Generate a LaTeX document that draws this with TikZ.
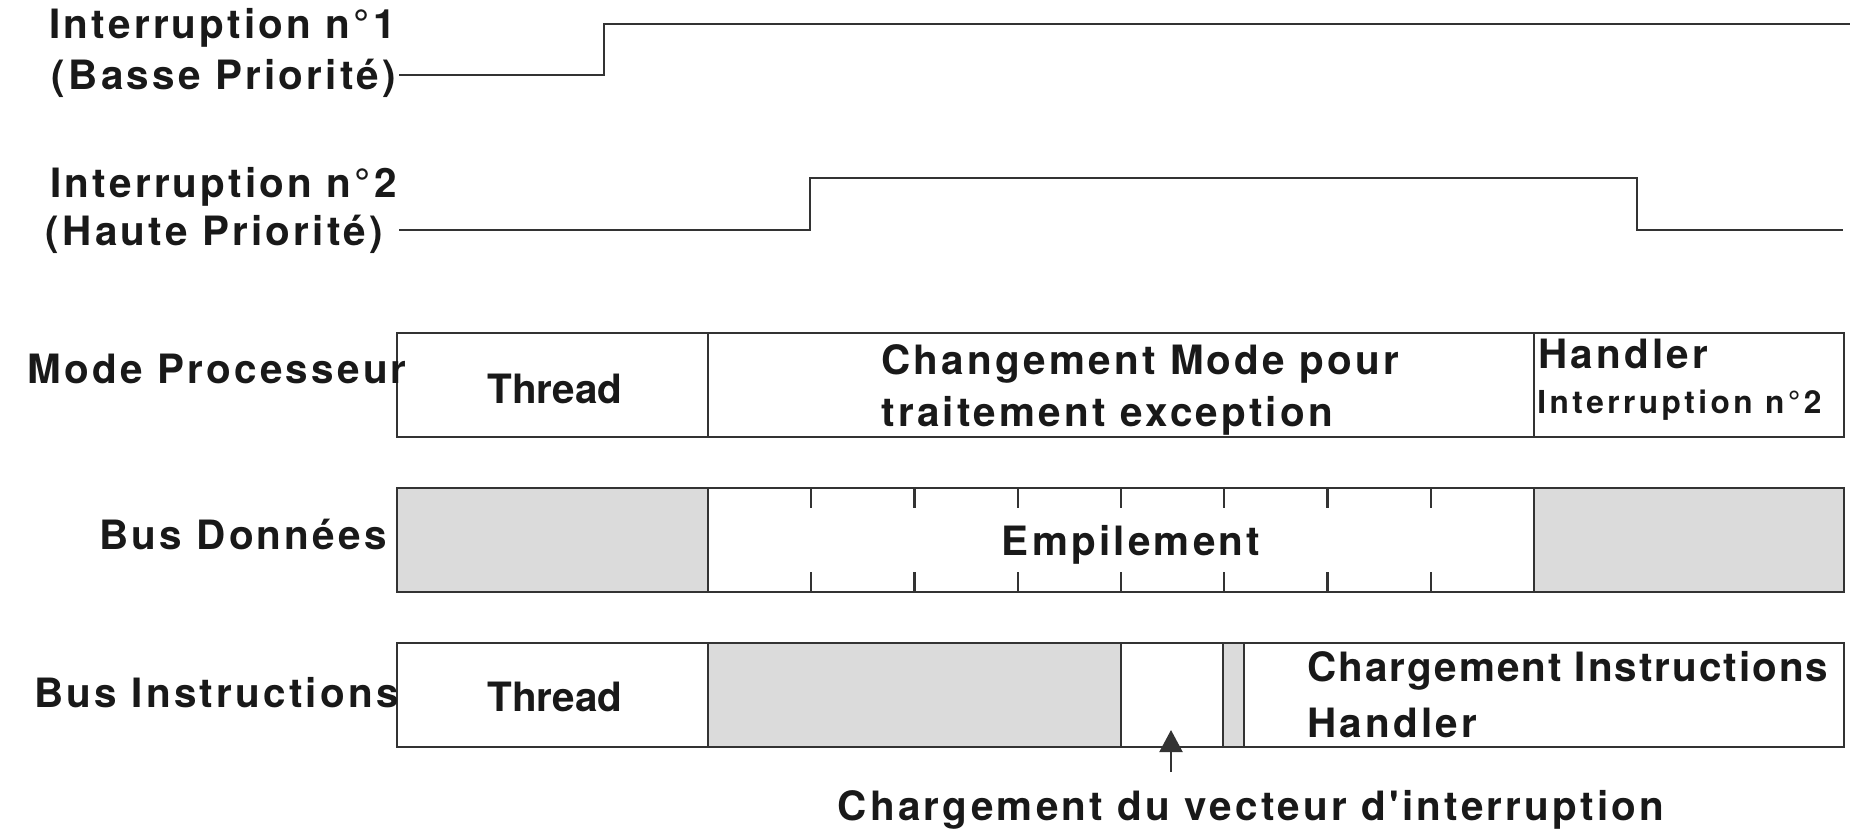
\documentclass[tikz,border=0pt]{standalone}
\usepackage{fontspec}
\setmainfont{TeX Gyre Heros}
\newfontfamily\diagfont[LetterSpace=8]{TeX Gyre Heros}
\newfontfamily\tightfont[LetterSpace=5]{TeX Gyre Heros}
\newfontfamily\smallfont[LetterSpace=11]{TeX Gyre Heros}
\usetikzlibrary{arrows.meta}
\definecolor{cellgray}{gray}{0.86}
\definecolor{inkgray}{gray}{0.2}
\tikzset{
  lbl/.style={font=\diagfont\bfseries\fontsize{23}{28}\selectfont, inner sep=0pt, text=black!90, anchor=base},
  thread lbl/.style={lbl, font=\bfseries\fontsize{23}{28}\selectfont},
  tight lbl/.style={lbl, font=\tightfont\bfseries\fontsize{23}{28}\selectfont},
  small lbl/.style={lbl, font=\smallfont\bfseries\fontsize{18}{22}\selectfont},
  signal/.style={draw=inkgray, line width=1.6pt},
  frame/.style={draw=inkgray, line width=1.6pt},
  tick/.style={draw=inkgray, line width=1.3pt},
}

\begin{document}
\begin{tikzpicture}[x=0.02cm, y=-0.02cm]
\useasboundingbox (0,0) rectangle (1850,836);

% interruption signals
\node[lbl, anchor=base east] (int1a) at (396,38) {Interruption n°1};
\node[lbl, anchor=base east] (int1b) at (396,89) {(Basse Priorité)};
\node[lbl, anchor=base east] (int2a) at (397,197) {Interruption n°2};
\node[lbl, anchor=base east] (int2b) at (383,245) {(Haute Priorité)};

\coordinate (s1a) at (399,75);
\coordinate (s1b) at (604,75);
\coordinate (s1c) at (1850,24);
\coordinate (s2a) at (399,230);
\coordinate (s2b) at (810,230);
\coordinate (s2c) at (1637,178);
\coordinate (s2d) at (1843,230);
\draw[signal] (s1a) -- (s1b) |- (s1c);
\draw[signal] (s2a) -- (s2b) |- (s2c) |- (s2d);

% mode processeur
\draw[frame] (397,333) rectangle (1844,437);
\draw[frame] (708,333) -- (708,437) (1534,333) -- (1534,437);
\node[lbl, anchor=base east] (mode) at (407,383) {Mode Processeur};
\node[thread lbl] (thr1) at (555,403) {Thread};
\node[lbl, anchor=base west] (chg1) at (881,374) {Changement Mode pour};
\node[lbl, anchor=base west] (chg2) at (881,426) {traitement exception};
\node[lbl, anchor=base west] (hdl1) at (1538,368) {Handler};
\node[small lbl, anchor=base west] (hdl2) at (1537,413) {Interruption n°2};

% bus donnees
\fill[cellgray] (397,488) rectangle (708,592) (1534,488) rectangle (1844,592);
\draw[frame] (397,488) rectangle (1844,592);
\draw[frame] (708,488) -- (708,592) (1534,488) -- (1534,592);
\foreach \k in {1,...,7}
  \draw[tick] ({708+\k*103.25},488) -- ++(0,20) ({708+\k*103.25},592) -- ++(0,-20);
\node[lbl, anchor=base east] (data) at (387,549) {Bus Données};
\node[lbl] (emp) at (1131,555) {Empilement};

% bus instructions
\fill[cellgray] (708,643) rectangle (1121,747) (1223,643) rectangle (1244,747);
\draw[frame] (397,643) rectangle (1844,747);
\draw[frame] (708,643) -- (708,747) (1121,643) -- (1121,747)
  (1223,643) -- (1223,747) (1244,643) -- (1244,747);
\node[lbl, anchor=base east] (instr) at (399,707) {Bus Instructions};
\node[thread lbl] (thr2) at (555,711) {Thread};
\node[tight lbl, anchor=base west] (chgi) at (1307,681) {Chargement Instructions};
\node[lbl, anchor=base west] (hdl3) at (1307,737) {Handler};

% vecteur
\node[lbl] (vect) at (1251,820) {Chargement du vecteur d'interruption};
\coordinate (vtail) at (1171,772);
\coordinate (vtip) at (1171,730);
\draw[inkgray, line width=1.2pt, -{Triangle[length=0.44cm,width=0.46cm]}] (vtail) -- (vtip);
\end{tikzpicture}
\end{document}
